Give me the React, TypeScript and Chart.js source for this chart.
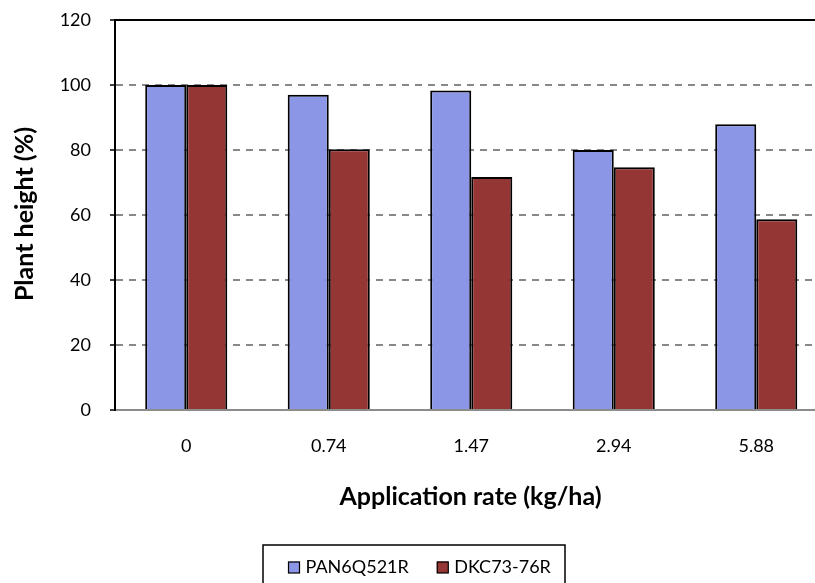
import React, { useEffect, useRef } from "react";
import { Chart, registerables } from "chart.js";

Chart.register(...registerables);

const categories = ["0", "0.74", "1.47", "2.94", "5.88"];
const seriesNames = ["PAN6Q521R", "DKC73-76R"];
const panValues = [100, 97, 98.3, 80, 87.9];
const dkcValues = [100, 80.2, 71.7, 74.7, 58.7];
const yTicks = [0, 20, 40, 60, 80, 100, 120];
const xTitle = "Application rate (kg/ha)";
const yTitle = "Plant height (%)";

const FONT = "Lato, 'Open Sans', sans-serif";
const BLUE = "#8B97E6";
const RED = "#943634";

const decorPlugin = {
  id: "decor",
  afterDraw(chart: any) {
    const ctx = chart.ctx;
    const a = chart.chartArea;
    ctx.save();
    // top border line
    ctx.strokeStyle = "#000";
    ctx.lineWidth = 2;
    ctx.beginPath();
    ctx.moveTo(a.left, a.top);
    ctx.lineTo(a.right, a.top);
    ctx.stroke();

    // axis titles
    ctx.fillStyle = "#000";
    ctx.font = `bold 25px ${FONT}`;
    ctx.textAlign = "center";
    ctx.textBaseline = "alphabetic";
    ctx.fillText(xTitle, 470.5, 505);
    ctx.save();
    ctx.translate(33, 214);
    ctx.rotate(-Math.PI / 2);
    ctx.fillText(yTitle, 0, 0);
    ctx.restore();

    // legend
    const bx = 263, by = 545, bw = 302, bh = 50;
    ctx.strokeStyle = "#000";
    ctx.lineWidth = 1.5;
    ctx.strokeRect(bx, by, bw, bh);
    ctx.font = `18px ${FONT}`;
    ctx.textAlign = "left";
    ctx.textBaseline = "alphabetic";
    const colors = [BLUE, RED];
    let x = 288;
    const baseY = 573;
    seriesNames.forEach((name, i) => {
      ctx.fillStyle = colors[i];
      ctx.fillRect(x, baseY - 11.5, 11.5, 11.5);
      ctx.lineWidth = 1.2;
      ctx.strokeStyle = "#000";
      ctx.strokeRect(x + 0.5, baseY - 11, 11, 11);
      ctx.fillStyle = "#000";
      ctx.fillText(name, x + 17.5, baseY);
      x += 17.5 + ctx.measureText(name).width + 28;
    });
    ctx.restore();
  },
};

export default function App() {
  const ref = useRef<HTMLCanvasElement | null>(null);
  useEffect(() => {
    if (!ref.current) return;
    const chart = new Chart(ref.current, {
      type: "bar",
      data: {
        labels: categories,
        datasets: [
          {
            label: seriesNames[0],
            data: panValues,
            backgroundColor: BLUE,
            borderColor: "#000",
            borderWidth: 2,
          },
          {
            label: seriesNames[1],
            data: dkcValues,
            backgroundColor: RED,
            borderColor: "#000",
            borderWidth: 2,
          },
        ],
      },
      options: {
        animation: false,
        responsive: false,
        maintainAspectRatio: false,
        layout: { padding: { top: 20, left: 0, right: 2.5, bottom: 113 }, autoPadding: false },
        datasets: { bar: { barPercentage: 1, categoryPercentage: 0.576 } },
        plugins: { legend: { display: false }, tooltip: { enabled: false } },
        scales: {
          x: {
            afterFit: (s: any) => {
              s.height = 60;
              s.paddingLeft = 0; s.paddingRight = 0; s.paddingTop = 0; s.paddingBottom = 0;
            },
            grid: { display: false, drawTicks: false },
            border: { display: true, color: "#8c8c8c", width: 2 },
            ticks: { color: "#000", font: { family: FONT, size: 18 }, padding: 25, maxRotation: 0, autoSkip: false },
          },
          y: {
            min: 0,
            max: 120,
            afterFit: (s: any) => {
              s.width = 115;
              s.paddingLeft = 0; s.paddingRight = 0; s.paddingTop = 0; s.paddingBottom = 0;
            },
            afterBuildTicks: (s: any) => { s.ticks = yTicks.map((v) => ({ value: v })); },
            grid: {
              color: (c: any) => (c.tick && (c.tick.value === 0 || c.tick.value === 120) ? "rgba(0,0,0,0)" : "#888888"),
              lineWidth: 2,
              tickLength: 5,
              tickColor: "#000",
              tickWidth: 1.5,
              tickBorderDash: [],
            },
            border: { display: true, color: "#000", width: 2, dash: [7, 6] },
            ticks: { color: "#000", font: { family: FONT, size: 18 }, padding: 19 },
          },
        },
      },
      plugins: [decorPlugin],
    });
    return () => chart.destroy();
  }, []);
  return (
    <div style={{ position: "absolute", left: 0, top: 0, width: 815, height: 583, overflow: "hidden", background: "#fff" }}>
      <canvas ref={ref} width={830} height={583} style={{ width: 830, height: 583, display: "block" }} />
    </div>
  );
}
